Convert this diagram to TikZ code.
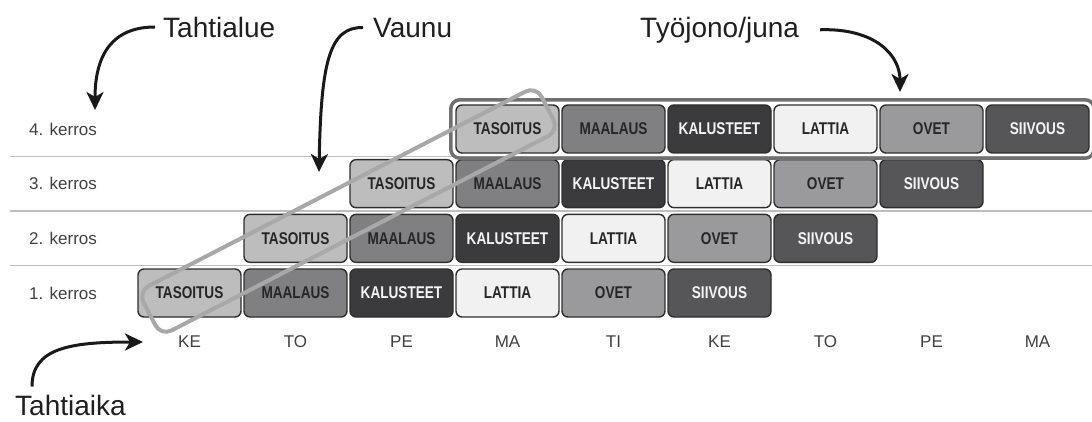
\documentclass[tikz,border=0pt]{standalone}
\usepackage{fontspec}
\setmainfont{Liberation Sans}
\newfontfamily\taskfont{Liberation Sans Bold}[FakeStretch=0.8]
\usepackage{tikz}
\usetikzlibrary{arrows.meta,positioning,calc,fit}
\definecolor{tasoc}{HTML}{BDBDBD}
\definecolor{maalc}{HTML}{808082}
\definecolor{kalc}{HTML}{3B3B3D}
\definecolor{lattc}{HTML}{F1F1F1}
\definecolor{ovetc}{HTML}{9A9A9C}
\definecolor{siivc}{HTML}{565658}
\definecolor{boxline}{HTML}{2E2E2E}
\definecolor{darktext}{HTML}{262626}
\definecolor{lighttext}{HTML}{F4F4F4}
\definecolor{gridc}{HTML}{BEBEBE}
\definecolor{junac}{HTML}{707070}
\definecolor{vaunuc}{HTML}{A8A8A8}
\tikzset{
  basic/.style    = {draw=boxline, line width=1.4pt, rounded corners=6pt, rectangle,
                     minimum width=103pt, minimum height=48pt, inner sep=0pt,
                     font=\taskfont\fontsize{17}{17}\selectfont},
  tasoitus/.style = {basic, fill=tasoc, text=darktext},
  maalaus/.style  = {basic, fill=maalc, text=darktext},
  kalusteet/.style= {basic, fill=kalc, text=lighttext},
  lattia/.style   = {basic, fill=lattc, text=darktext},
  ovet/.style     = {basic, fill=ovetc, text=darktext},
  siivous/.style  = {basic, fill=siivc, text=lighttext},
  rowlabel/.style = {anchor=west, inner sep=0pt, text=black!75, font=\fontsize{17}{17}\selectfont},
  daylabel/.style = {inner sep=0pt, text=black!75, font=\fontsize{17}{17}\selectfont},
  bigtext/.style  = {anchor=base west, inner sep=0pt, text=black!88, font=\fontsize{28}{28}\selectfont},
  pointer/.style  = {-{Stealth[length=18pt,width=17pt,inset=5pt]}, line width=3pt, draw=black!90}
}

\begin{document}
\begin{tikzpicture}[x=1pt,y=-1pt]
\useasboundingbox (0,0) rectangle (1092,421);

% floor lines and floor names
\foreach \y in {156.3,211,265.7}
  \draw[gridc, line width=1.2pt] (10,\y) -- (1092,\y);
\foreach \row in {1,2,3,4}
  \node[rowlabel] (k\row) at (29,{293-54.67*(\row-1)}) {\row. kerros};

% the tasks, one row per floor, shifted one day per floor
\foreach \row in {1,2,3,4}
  \foreach \style/\name [count=\k from 0] in {tasoitus/TASOITUS,maalaus/MAALAUS,
      kalusteet/KALUSTEET,lattia/LATTIA,ovet/OVET,siivous/SIIVOUS}
    \node[\style] (t\row\k) at ({189.5+106*(\row-1+\k)},{293-54.67*(\row-1)}) {\name};

% days
\foreach \d [count=\i from 0] in {KE,TO,PE,MA,TI,KE,TO,PE,MA}
  \node[daylabel] (d\i) at ({189.5+106*\i},342) {\d};

% train around the top floor, wagon across the first task
\node[draw=junac, line width=3.5pt, rounded corners=9pt, inner sep=4.5pt,
      fit=(t40)(t45)] (juna) {};
\node[draw=vaunuc, line width=4pt, rounded corners=12pt, rectangle,
      minimum width=448pt, minimum height=50pt, rotate=27.3]
      (vaunu) at ($(t10)!0.5!(t40)$) {};

% callout texts
\node[bigtext] (tahtialue) at (163,37) {Tahtialue};
\node[bigtext] (vaunuteksti) at (373,37) {Vaunu};
\node[bigtext] (tyojono) at (640,37) {Työjono/juna};
\node[bigtext] (tahtiaika) at (15,415) {Tahtiaika};

\coordinate (aluetip) at (95,110);
\coordinate (vaunutip) at (319,172);
\coordinate (junatip) at (900,92);
\coordinate (aikatip) at (143,342);

% curved arrows
\draw[pointer] ([xshift=-8pt]tahtialue.west) .. controls (112,27) and (95,55) .. (aluetip);
\draw[pointer] ([xshift=-10pt]vaunuteksti.west) .. controls (330,27) and (321,60) .. (vaunutip);
\draw[pointer] ([xshift=21pt]tyojono.east) .. controls (875,28) and (900,55) .. (junatip);
\draw[pointer] ($(tahtiaika.north west)+(17,-8)$) .. controls (32,348) and (70,342) .. (aikatip);

\end{tikzpicture}
\end{document}
